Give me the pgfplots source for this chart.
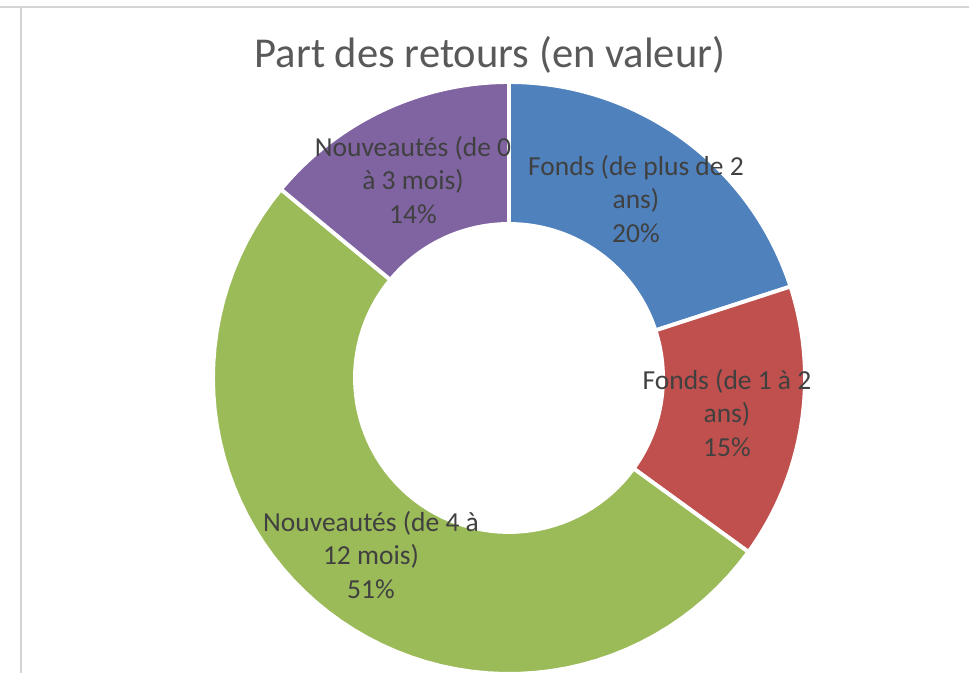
\documentclass[border=0pt]{standalone}
\usepackage{pgfplots}
\pgfplotsset{compat=1.18}
\usepackage{fontspec}
\setmainfont{Carlito}

\definecolor{sBlue}{HTML}{4F81BD}
\definecolor{sRed}{HTML}{C0504D}
\definecolor{sGreen}{HTML}{9BBB59}
\definecolor{sPurple}{HTML}{8064A2}
\definecolor{txt}{HTML}{404040}
\definecolor{ttl}{HTML}{595959}
\definecolor{frame}{HTML}{D4D4D4}

% donut geometry (axis units = pixels of the reference)
\def\cx{509}\def\cy{295}\def\Ro{296}\def\Ri{154}

% #1 = cumulative share before the slice, #2 = share (%), #3 = colour
\newcommand{\slice}[3]{%
  \addplot[fill=#3, draw=white, line width=1.6pt, line join=round,
           domain=0:3, samples=181, variable=\t]
  ({\cx + (\Ro + (\Ri-\Ro)*min(max(\t-1,0),1))*cos(90 - 3.6*(#1 + #2*min(\t,1,3-\t)))},
   {\cy + (\Ro + (\Ri-\Ro)*min(max(\t-1,0),1))*sin(90 - 3.6*(#1 + #2*min(\t,1,3-\t)))}) -- cycle;
}

\begin{document}
\begin{tikzpicture}
\begin{axis}[
    width=14cm, height=9.723cm,
    scale only axis,
    xmin=0, xmax=969, ymin=0, ymax=673,
    hide axis,
]
% frame of the chart area
\addplot[draw=none] coordinates {(0,0) (969,673)};
\addplot[frame, line width=1pt] coordinates {(0,666) (969,666)};
\addplot[frame, line width=1pt] coordinates {(21,665) (21,0)};

% shares in %: Fonds >2 ans, Fonds 1-2 ans, Nouveautes 4-12 mois, Nouveautes 0-3 mois
\slice{0}{20}{sBlue}
\slice{20}{15}{sRed}
\slice{35}{51}{sGreen}
\slice{86}{14}{sPurple}

\node[anchor=base, text=ttl, font=\fontsize{17.5}{21}\selectfont]
  at (axis cs:490,605) {Part des retours (en valeur)};

\tikzset{lbl/.style={align=center, text=txt, font=\fontsize{11.3}{13.8}\selectfont}}
\node[lbl] at (axis cs:636,474) {Fonds (de plus de 2\\ans)\\20\%};
\node[lbl] at (axis cs:727,260) {Fonds (de 1 à 2\\ans)\\15\%};
\node[lbl] at (axis cs:371,118) {Nouveautés (de 4 à\\12 mois)\\51\%};
\node[lbl] at (axis cs:413,493) {Nouveautés (de 0\\à 3 mois)\\14\%};
\end{axis}
\end{tikzpicture}
\end{document}
